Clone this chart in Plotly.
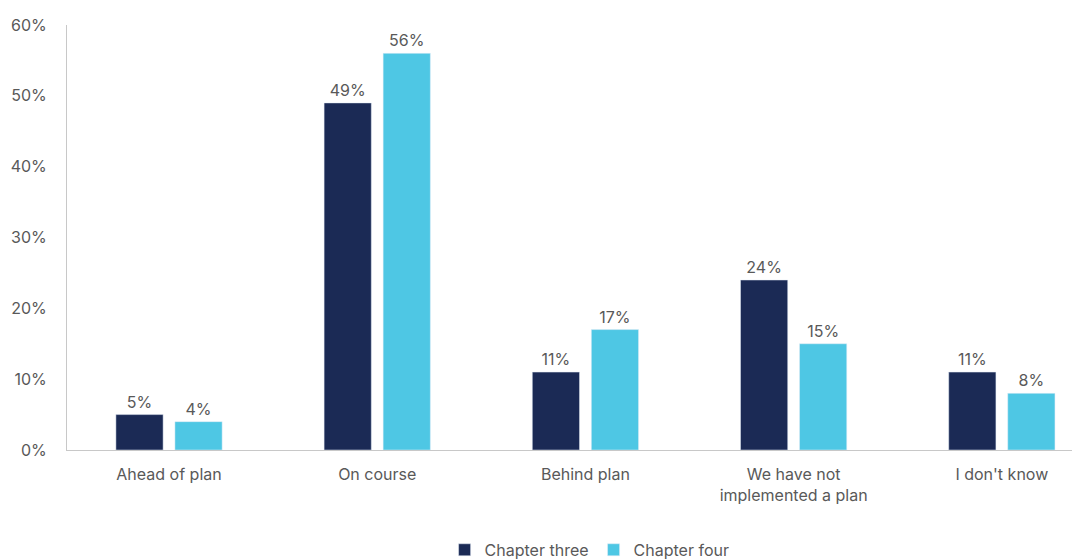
import plotly.graph_objects as go

categories = ["Ahead of plan", "On course", "Behind plan",
              "We have not<br>implemented a plan", "I don't know"]
chapter_three = [5, 49, 11, 24, 11]
chapter_four = [4, 56, 17, 15, 8]
y_ticks = [0, 10, 20, 30, 40, 50, 60]
y_tick_labels = [f"{v}%" for v in y_ticks]

NAVY = "#1b2a55"
CYAN = "#4ec7e4"
GREY = "#595959"
FONT = "Inter, Open Sans, sans-serif"

fig = go.Figure()
for name, vals, color in [("Chapter three", chapter_three, NAVY),
                          ("Chapter four", chapter_four, CYAN)]:
    fig.add_trace(go.Bar(
        name=name, x=categories, y=vals, marker_color=color,
        text=[f"{v}%" for v in vals], textposition="outside",
        textfont=dict(size=16, color=GREY, family=FONT),
        cliponaxis=False,
    ))

fig.update_layout(
    width=1072, height=560,
    margin=dict(l=67, r=0, t=25, b=110, autoexpand=False),
    plot_bgcolor="white", paper_bgcolor="white",
    barmode="group", bargap=0.433, bargroupgap=0.2,
    font=dict(family=FONT, size=16, color=GREY),
    showlegend=True,
    legend=dict(orientation="h", x=0.52, xanchor="center",
                y=-0.235, yanchor="middle",
                font=dict(size=16, color=GREY, family=FONT)),
    xaxis=dict(range=[-0.49, 4.337], showline=True, linecolor="#c8c8c8",
               linewidth=1, showgrid=False, ticks="outside", ticklen=10,
               tickcolor="rgba(0,0,0,0)", automargin=False,
               tickfont=dict(size=16, color=GREY)),
    yaxis=dict(range=[0, 60], tickvals=y_ticks, ticktext=y_tick_labels,
               showline=True, linecolor="#c8c8c8", linewidth=1,
               showgrid=False, zeroline=False, ticks="outside",
               ticklen=16, tickcolor="rgba(0,0,0,0)", automargin=False,
               tickfont=dict(size=16, color=GREY)),
)

fig.write_html("out.html")
